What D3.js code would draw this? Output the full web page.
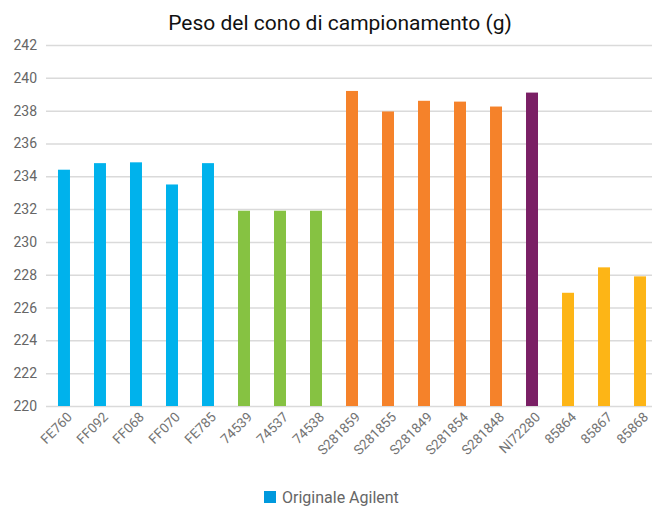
<!DOCTYPE html>
<html>
<head>
<meta charset="utf-8">
<script src="https://cdn.jsdelivr.net/npm/d3@7"></script>
<style>
  body { margin: 0; background: #fff; }
  text { font-family: Roboto, "Noto Sans", sans-serif; }
</style>
</head>
<body>
<script>
// sample ids and cone weights (g)
const categories = ["FE760", "FF092", "FF068", "FF070", "FE785", "74539", "74537", "74538",
    "S281859", "S281855", "S281849", "S281854", "S281848", "NI72280", "85864", "85867", "85868"];
const values = [234.4, 234.8, 234.85, 233.5, 234.8, 231.9, 231.9, 231.9,
    239.2, 237.95, 238.6, 238.55, 238.25, 239.1, 226.9, 228.45, 227.9];
const groups = ["a", "a", "a", "a", "a", "b", "b", "b",
    "c", "c", "c", "c", "c", "d", "e", "e", "e"];
const yTicks = [220, 222, 224, 226, 228, 230, 232, 234, 236, 238, 240, 242];

let w = 652,
    h = 508;

let svg = d3.select("body")
    .append("svg")
    .attr("width", w)
    .attr("height", h);

let x = d3.scaleBand()
    .domain(categories)
    .range([46, 658])
    .paddingInner(0.667)
    .paddingOuter(0.333);

let y = d3.scaleLinear()
    .domain([220, 242])
    .range([406, 45]);

let color = d3.scaleOrdinal()
    .domain(["a", "b", "c", "d", "e"])
    .range(["#00b2ec", "#86c242", "#f5822a", "#7a1f65", "#fdb516"]);

// gridlines + y labels
let yAxis = svg.append("g")
    .attr("transform", "translate(46,0)")
    .call(d3.axisLeft(y).tickValues(yTicks).tickSize(-w).tickPadding(9));
yAxis.select(".domain").remove();
yAxis.selectAll(".tick line")
    .attr("stroke", "#dadada")
    .attr("stroke-width", 1.5);
yAxis.selectAll(".tick text")
    .attr("fill", "#666")
    .style("font-size", "14px")
    .style("font-family", "Roboto, sans-serif");

// bars
svg.selectAll(".bar")
    .data(categories)
    .enter()
    .append("rect")
    .attr("class", "bar")
    .attr("x", function(d) { return x(d); })
    .attr("width", x.bandwidth())
    .attr("y", function(d, i) { return y(values[i]); })
    .attr("height", function(d, i) { return y(220) - y(values[i]); })
    .attr("fill", function(d, i) { return color(groups[i]); });

// rotated category labels
svg.selectAll(".xlab")
    .data(categories)
    .enter()
    .append("text")
    .attr("class", "xlab")
    .attr("text-anchor", "end")
    .attr("transform", function(d) {
        return "translate(" + (x(d) + x.bandwidth() / 2 + 9) + ",418) rotate(-45)";
    })
    .attr("fill", "#747474")
    .style("font-size", "13.5px")
    .text(function(d) { return d; });

// title
svg.append("text")
    .attr("x", 340)
    .attr("y", 30)
    .attr("text-anchor", "middle")
    .attr("fill", "#111")
    .style("font-size", "21px")
    .text("Peso del cono di campionamento (g)");

// legend
svg.append("rect")
    .attr("x", 264)
    .attr("y", 491)
    .attr("width", 12)
    .attr("height", 12)
    .attr("fill", "#0099dd");
svg.append("text")
    .attr("x", 282)
    .attr("y", 503)
    .attr("fill", "#666")
    .style("font-size", "16px")
    .text("Originale Agilent");
</script>
</body>
</html>
